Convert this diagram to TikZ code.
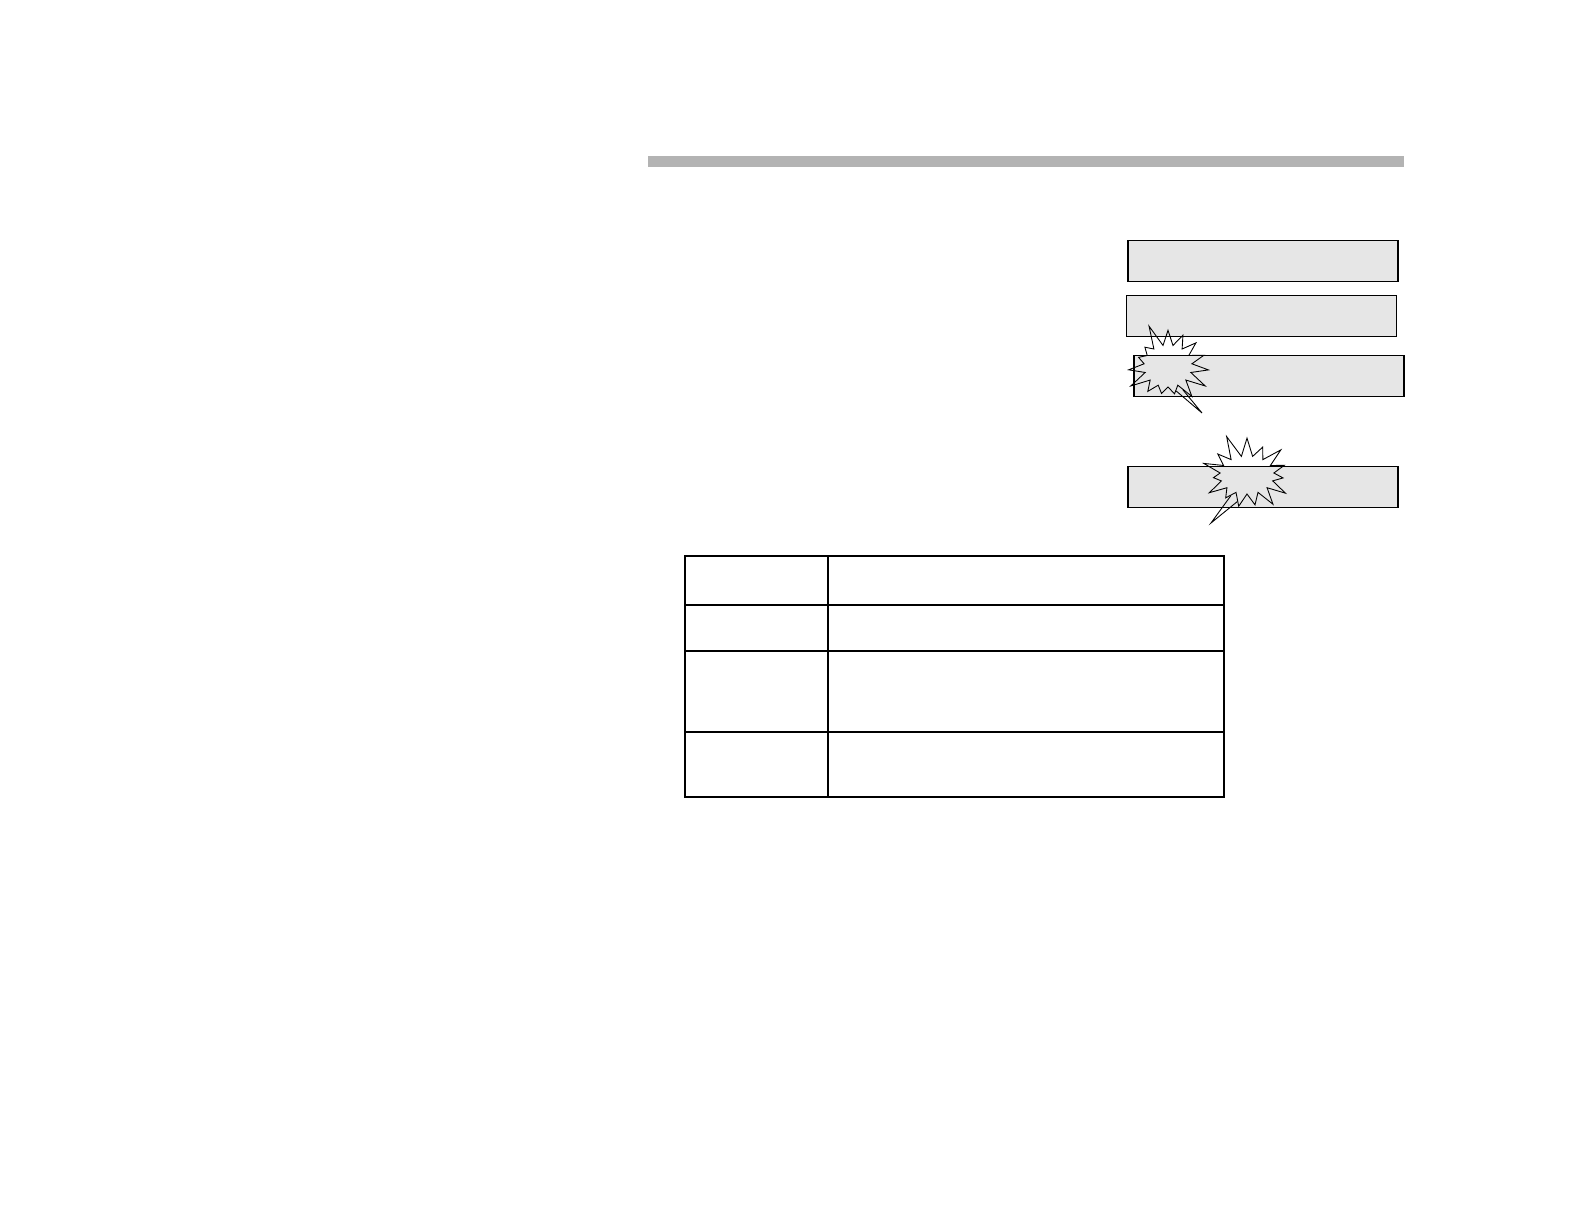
\documentclass[tikz,border=0pt]{standalone}
\usetikzlibrary{shapes.symbols}
\definecolor{bargray}{RGB}{179,179,179}
\definecolor{boxgray}{RGB}{230,230,230}
\tikzset{
  slot/.style={draw, fill=boxgray, line width=0.38pt, minimum width=2.70cm, minimum height=0.41cm, inner sep=0pt},
  burst/.style={starburst, draw, line width=0.25pt, starburst points=15, starburst point height=0.24cm, inner sep=0pt},
  tail/.style={line width=0.25pt, line join=miter}
}
\begin{document}
\begin{tikzpicture}[x=0.01cm, y=-0.01cm]
\useasboundingbox (0,0) rectangle (1584,1222);
\fill[bargray] (648,156) rectangle (1404,167);
\node[slot] (s1) at (1263,261) {};
\node[slot] (s2) at (1261.5,316) {};
\node[slot] (s3) at (1269,376) {};
\node[slot] (s4) at (1263,487) {};
\node[burst, minimum width=0.96cm, minimum height=0.90cm, random starburst=5] (b1) at (1168,366) {};
\node[burst, minimum width=1.02cm, minimum height=0.86cm, random starburst=11] (b2) at (1247,475) {};
\coordinate (tip1) at (1202,413);
\coordinate (tip2) at (1211,523);
\draw[tail] (b1.-72) -- (tip1) -- (b1.-58);
\draw[tail] (b2.-128) -- (tip2) -- (b2.-110);
% table
\draw[line width=0.38pt] (685,556) rectangle (1224,797);
\draw[line width=0.38pt] (828,556) -- (828,797);
\foreach \y in {605,651,732}
  \draw[line width=0.38pt] (685,\y) -- (1224,\y);
\end{tikzpicture}
\end{document}
